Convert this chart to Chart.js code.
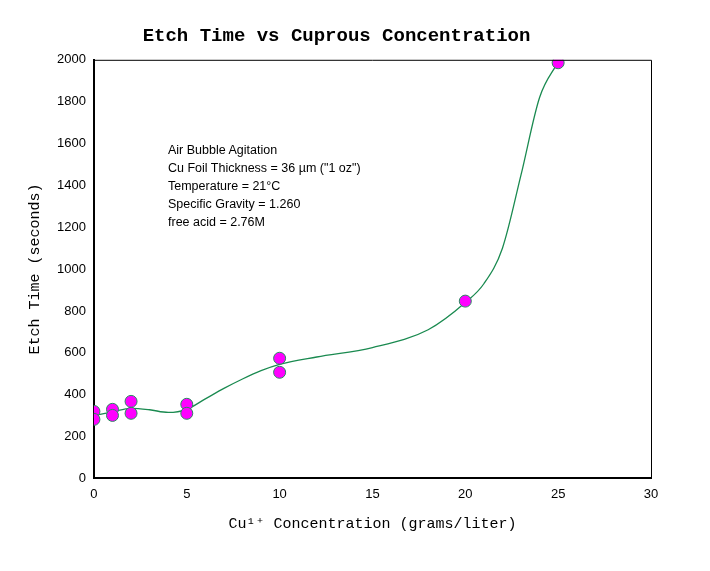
<!DOCTYPE html>
<html><head><script src="https://cdn.jsdelivr.net/npm/chart.js@4"></script>
<style>body{margin:0;background:#fff}#w{width:710px;height:571px;position:relative}
#note{position:absolute;left:168px;top:141px;font:12.5px "Liberation Sans",Arial;line-height:18px;color:#000}</style></head>
<body><div id="w"><canvas id="c" width="710" height="571"></canvas>
<div id="note">Air Bubble Agitation<br>Cu Foil Thickness = 36 µm ("1 oz")<br>Temperature = 21°C<br>Specific Gravity = 1.260<br>free acid = 2.76M</div></div>
<script>
const concX=[0,0,1,1,2,2,5,5,10,10,20,25];
const etchY=[320,282,330,301,368,311,354,311,574,507,847,1986];
const fitX=[0,1,2,3,4,5,6,7,8,9,10,12,15,18,20,21,22,23,24,25];
const fitY=[300,318,335,328,315,330,380,430,475,515,545,580,625,710,840,930,1100,1450,1820,1990];
const mono='"Liberation Mono","DejaVu Sans Mono",monospace';
new Chart(document.getElementById('c'),{
 type:'scatter',
 data:{datasets:[
  {data:fitX.map((x,i)=>({x,y:fitY[i]})),showLine:true,borderColor:'#1a8a50',borderWidth:1.3,pointRadius:0,tension:0.4,cubicInterpolationMode:'monotone',order:2},
  {data:concX.map((x,i)=>({x,y:etchY[i]})),backgroundColor:'#ff00ff',borderColor:'#2a8a60',borderWidth:1,pointRadius:6,order:1}
 ]},
 options:{responsive:false,animation:false,
  layout:{padding:{left:22,right:59,top:5,bottom:34}},
  plugins:{legend:{display:false},tooltip:{enabled:false},
   title:{display:true,text:'Etch Time vs Cuprous Concentration',font:{family:mono,size:19,weight:'bold'},color:'#000',padding:{top:20,bottom:12}}},
  scales:{
   x:{type:'linear',min:0,max:30,ticks:{stepSize:5,color:'#000',font:{family:'"Liberation Sans",Arial',size:13}},
    grid:{display:false,drawTicks:true,tickLength:5,tickColor:'#000'},border:{color:'#000',width:2},
    title:{display:true,text:'Cu¹⁺ Concentration (grams/liter)',font:{family:mono,size:15},color:'#000',padding:{top:10}}},
   y:{min:0,max:2000,ticks:{stepSize:200,color:'#000',font:{family:'"Liberation Sans",Arial',size:13},callback:v=>String(v)},
    grid:{display:false,tickLength:5,tickColor:'#000'},border:{color:'#000',width:2},
    title:{display:true,text:'Etch Time (seconds)',font:{family:mono,size:15},color:'#000',padding:{bottom:10}}}
  }},
 plugins:[{id:'frame',afterDraw(ch){const a=ch.chartArea,c=ch.ctx;c.save();c.strokeStyle='#000';c.lineWidth=1;
  c.beginPath();c.moveTo(a.left,a.top+0.5);c.lineTo(a.right+0.5,a.top+0.5);c.lineTo(a.right+0.5,a.bottom);c.stroke();c.restore();}}]
});
</script></body></html>
